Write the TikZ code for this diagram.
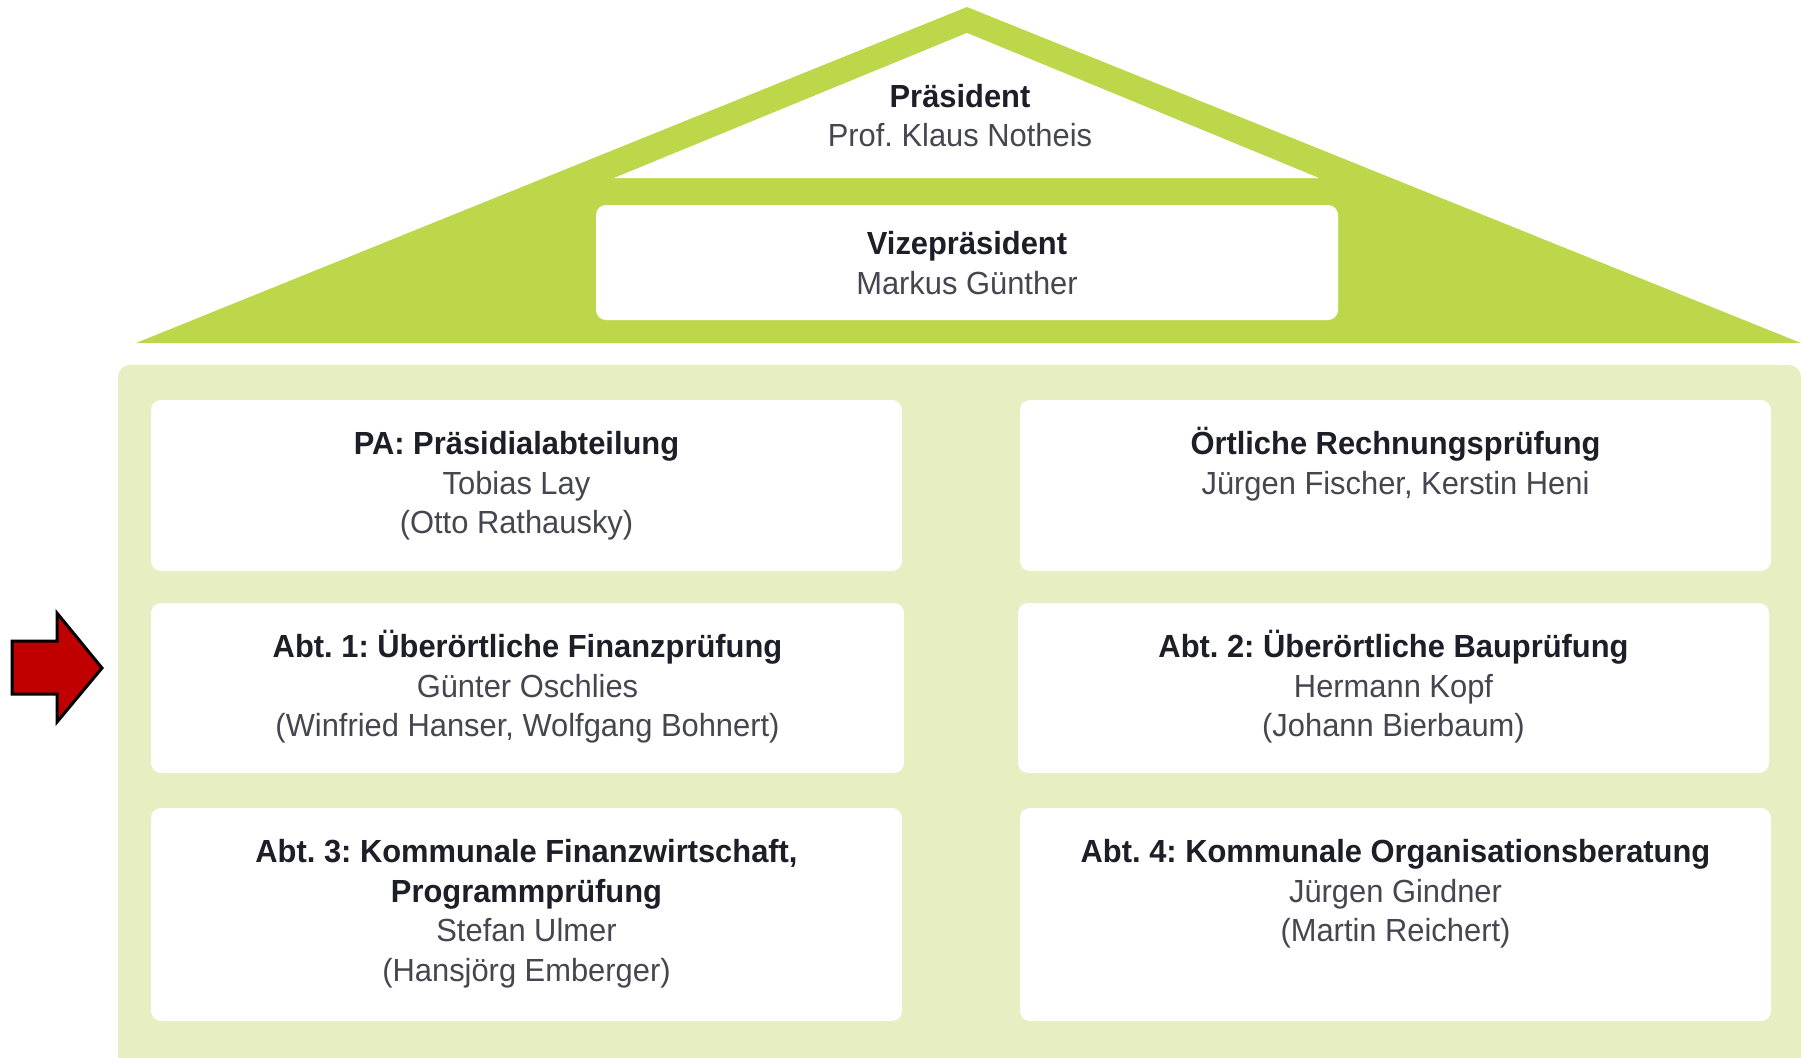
\documentclass[tikz,border=0pt]{standalone}
\usepackage{fontspec}
\setmainfont{Liberation Sans}[FakeStretch=0.965]
\frenchspacing
\usetikzlibrary{%
  positioning,%
  fit%
}
\definecolor{roofgreen}{RGB}{189,215,75}
\definecolor{panelgreen}{RGB}{230,238,194}
\definecolor{arrowred}{RGB}{192,0,0}
\definecolor{titlecol}{RGB}{30,30,40}
\definecolor{namecol}{RGB}{70,70,80}
\tikzset{
  box/.style={fill=white,rounded corners=5pt,inner sep=0pt},
  txt/.style={align=center,inner sep=0pt,text=namecol,
    font=\fontsize{16}{19.8}\selectfont},
}
\newcommand{\ttl}[1]{\strut\textcolor{titlecol}{\bfseries #1}}

\begin{document}
\begin{tikzpicture}[x=0.5pt,y=-0.5pt]
  \useasboundingbox (0,0) rectangle (1801,1057);
  % roof
  \fill[roofgreen] (136,343) -- (967,7) -- (1801,343) -- cycle;
  \fill[white] (614,178) -- (967,33) -- (1319,178) -- cycle;
  \node[box,fit={(596,205) (1338,320)}] (vize) {};
  \node[txt,anchor=north] (pres) at (960,79)
    {\ttl{Präsident}\\Prof. Klaus Notheis};
  \node[txt,below=11pt of vize.north] (vizetxt)
    {\ttl{Vizepräsident}\\Markus Günther};
  % house
  \fill[panelgreen,rounded corners=6pt] (118,365) rectangle (1801,1080);
  \node[box,fit={(151,400) (902,571)}] (pa) {};
  \node[box,fit={(1020,400) (1771,571)}] (orp) {};
  \node[box,fit={(151,603) (904,773)}] (abt1) {};
  \node[box,fit={(1018,603) (1769,773)}] (abt2) {};
  \node[box,fit={(151,808) (902,1021)}] (abt3) {};
  \node[box,fit={(1020,808) (1771,1021)}] (abt4) {};
  \node[txt,below=13.5pt of pa.north,xshift=-5pt] (patxt)
    {\ttl{PA: Präsidialabteilung}\\Tobias Lay\\(Otto Rathausky)};
  \node[txt,below=13.5pt of orp.north] (orptxt)
    {\ttl{Örtliche Rechnungsprüfung}\\Jürgen Fischer, Kerstin Heni};
  \node[txt,below=13.5pt of abt1.north] (abt1txt)
    {\ttl{Abt. 1: Überörtliche Finanzprüfung}\\Günter Oschlies\\(Winfried Hanser, Wolfgang Bohnert)};
  \node[txt,below=13.5pt of abt2.north] (abt2txt)
    {\ttl{Abt. 2: Überörtliche Bauprüfung}\\Hermann Kopf\\(Johann Bierbaum)};
  \node[txt,below=13.5pt of abt3.north] (abt3txt)
    {\ttl{Abt. 3: Kommunale Finanzwirtschaft,}\\\ttl{Programmprüfung}\\Stefan Ulmer\\(Hansjörg Emberger)};
  \node[txt,below=13.5pt of abt4.north] (abt4txt)
    {\ttl{Abt. 4: Kommunale Organisationsberatung}\\Jürgen Gindner\\(Martin Reichert)};
  % marker
  \filldraw[fill=arrowred,draw=black,line width=1.5pt,line join=miter]
    (12,641) -- (57,641) -- (57,613) -- (102,668) -- (57,722) -- (57,694) -- (12,694) -- cycle;
\end{tikzpicture}
\end{document}
